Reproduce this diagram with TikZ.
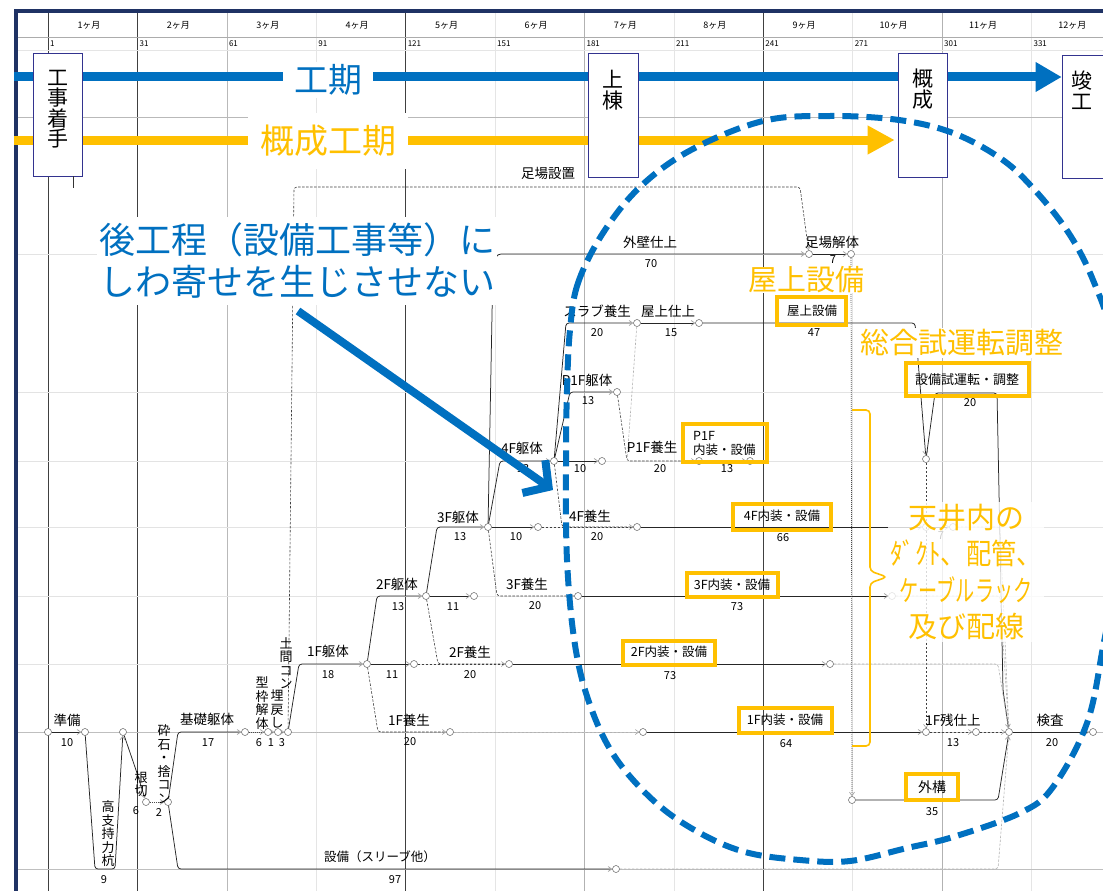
\documentclass[tikz,border=0pt]{standalone}
\usepackage{fontspec}
\setmainfont{Noto Sans CJK JP}
\usetikzlibrary{arrows.meta}
\definecolor{navy}{RGB}{31,50,100}
\definecolor{myblue}{RGB}{0,112,192}
\definecolor{myyel}{RGB}{255,192,0}
\newcommand{\myfs}[2]{\fontsize{#1}{#2}\selectfont}
\begin{document}
\begin{tikzpicture}[x=1pt,y=-1pt,
 ev/.style={circle,draw=gray!75!black,fill=white,inner sep=0pt,minimum size=7pt,line width=0.5pt},
 act/.style={draw=black!85,line width=0.75pt},
 dsh/.style={draw=black!75,line width=0.6pt,dash pattern=on 2.5pt off 1.5pt},
 dsl/.style={draw=gray!60,line width=0.6pt,dash pattern=on 2.5pt off 1.5pt},
 dot/.style={draw=black!70,line width=0.7pt,dash pattern=on 1pt off 1pt},
 tip/.style={-{Straight Barb[length=3.5pt,width=5pt,color=gray!70]}},
 lb/.style={font=\myfs{13.5}{14},inner sep=0pt},
 nm/.style={font=\myfs{11}{12},inner sep=0pt},
 vt/.style={font=\myfs{13}{13.5},align=center,inner sep=0pt},
 ybox/.style={draw=myyel,line width=3.6pt},
 ytx/.style={font=\myfs{12.5}{14},inner sep=0pt},
 ms/.style={draw=black!40!blue!60!gray,line width=0.6pt,fill=white},
 mst/.style={font=\myfs{21}{20.5},align=center,inner sep=0pt},
 ytext/.style={text=myyel,font=\myfs{29}{36.5},inner sep=2pt,fill=white}
]
\useasboundingbox (0,0) rectangle (1103,891);
\fill[white] (0,0) rectangle (1103,891);

% ---------- grid ----------
\foreach \k/\c in {0/black!75,1/black!75,2/gray!55,3/gray!20,4/black!75,5/gray!20,6/gray!60,7/gray!20,8/black!75,9/gray!20,10/gray!60,11/gray!20}{
  \draw[draw=\c,line width=0.6pt] ({48+89.4*\k},12) -- ({48+89.4*\k},891);
}
\foreach \k/\d in {0/1,1/31,2/61,3/91,4/121,5/151,6/181,7/211,8/241,9/271,10/301,11/331}{
  \node[font=\myfs{9}{10},inner sep=0pt] at ({48+89.4*\k+41},25) {\the\numexpr\k+1\relax ヶ月};
  \node[font=\myfs{8}{9},anchor=west,inner sep=0pt] at ({48+89.4*\k+2},44) {\d};
}
\draw[gray!65,line width=0.6pt] (16,37) -- (1103,37);
\draw[gray!20,line width=0.5pt] (16,50) -- (1103,50);
\draw[gray!55,line width=0.6pt] (16,117) -- (1103,117);
\foreach \y in {254,392,461,527,596,664}{\draw[gray!22,line width=0.5pt] (16,\y) -- (1103,\y);}
\foreach \y in {732,869}{\draw[gray!50,line width=0.6pt] (16,\y) -- (1103,\y);}

% ---------- frame ----------
\draw[navy,line width=3.5pt] (16,891) -- (16,11) -- (1103,11);

% ---------- period arrows and milestones ----------
\node[ms,minimum width=49pt,minimum height=123pt] (m1) at (57.5,114.5) {};
\node[ms,minimum width=50pt,minimum height=124pt] (m2) at (613,115) {};
\node[ms,minimum width=49pt,minimum height=124pt] (m3) at (922.5,115) {};
\node[ms,minimum width=50pt,minimum height=123pt] (m4) at (1087,116.5) {};
\coordinate (bs) at (14,77);
\coordinate (ys) at (14,140);
\draw[myblue,line width=9pt,-{Triangle[length=26pt,width=28pt]}] (bs) -- (m4.west |- bs);
\draw[myyel,line width=9pt,-{Triangle[length=27pt,width=27pt]}] (ys) -- ([xshift=-3pt]m3.west |- ys);
\node[text=myblue,fill=white,font=\myfs{34}{34},inner xsep=11pt,inner ysep=2pt] (tki) at (328,80) {工期};
\node[text=myyel,fill=white,font=\myfs{34}{34},inner xsep=12pt,inner ysep=12pt] (gtk) at (328,141) {概成工期};
\node[ms,minimum width=49pt,minimum height=123pt] at (57.5,114.5) {};
\node[ms,minimum width=50pt,minimum height=124pt] at (613,115) {};
\node[ms,minimum width=49pt,minimum height=124pt] at (922.5,115) {};
\node[ms,minimum width=50pt,minimum height=123pt] at (1087,116.5) {};
\node[mst] at (57.5,109) {工\\事\\着\\手};
\node[mst] at (613,90) {上\\棟};
\node[mst] at (922.5,89) {概\\成};
\node[mst] at (1082,90) {竣\\工};
\coordinate (mt) at (73,188);
\draw[black!80,line width=0.6pt] (m1.south -| mt) -- (mt);

% ---------- events ----------
\node[ev] (e0) at (48,732) {};
\node[ev] (e1) at (85,732) {};
\node[ev] (e2) at (123,732) {};
\node[ev] (e3) at (146,802) {};
\node[ev] (e4) at (168,802) {};
\node[ev] (e5) at (245,732) {};
\node[ev] (e6) at (268,732) {};
\node[ev] (e7) at (278,732) {};
\node[ev] (e8) at (288,732) {};
\node[ev] (e9) at (367,664) {};
\node[ev] (e10) at (414,664) {};
\node[ev] (e11) at (426,596) {};
\node[ev] (e12) at (474,596) {};
\node[ev] (e13) at (488,527) {};
\node[ev] (e14) at (538,527) {};
\node[ev] (e15) at (554,461) {};
\node[ev] (e16) at (602,461) {};
\node[ev] (e17) at (617,392) {};
\node[ev] (e18) at (637,323) {};
\node[ev] (e19) at (699,323) {};
\node[ev] (e20) at (699,461) {};
\node[ev] (e21) at (750,461) {};
\node[ev] (e22) at (637,527) {};
\node[ev] (e23) at (578,596) {};
\node[ev] (e24) at (509,664) {};
\node[ev] (e25) at (450,732) {};
\node[ev] (e26) at (643,732) {};
\node[ev] (e27) at (809,254) {};
\node[ev] (e28) at (851,254) {};
\node[ev] (e29) at (926,459) {};
\node[ev] (e30) at (926,527) {};
\node[ev] (e31) at (953,527) {};
\node[ev] (e32) at (892,596) {};
\node[ev] (e33) at (830,664) {};
\node[ev] (e34) at (926,732) {};
\node[ev] (e35) at (976,732) {};
\node[ev] (e36) at (1009,732) {};
\node[ev] (e37) at (1093,732) {};
\node[ev] (e38) at (852,800) {};
\node[ev] (e39) at (616,869) {};

% ---------- activities ----------
\begin{scope}[rounded corners=3pt]
\draw[act,tip] (e0) -- (e1);
\draw[act,tip] (e1) -- (95,869) -- (115,869) -- (e2);
\draw[act,tip] (e2) -- (137,773) -- (e3);
\draw[dot,tip] (e3) -- (e4);
\draw[act,tip] (e4) -- (178,732) -- (e5);
\draw[act,tip] (e4) -- (178,869) -- (e39);
\draw[dsl] (e39) -- (998,869) -- (e36);
\draw[dot,tip] (e5) -- (e6);
\draw[dot,tip] (e6) -- (e7);
\draw[dot,tip] (e7) -- (e8);
\draw[act,tip] (e8) -- (299,664) -- (e9);
\draw[dsh,tip] (e8) -- (294,187) -- (800,187) -- (e27);
\draw[act,tip] (e9) -- (e10);
\draw[dsh,tip] (e10) -- (e24);
\draw[dsh,tip] (e9) -- (378,732) -- (e25);
\draw[dsl,tip] (e25) -- (e26);
\draw[act,tip] (e26) -- (e34);
\draw[dsh,tip] (e34) -- (e35);
\draw[dsh,tip] (e35) -- (e36);
\draw[act,tip] (e36) -- (e37);
\draw[act,tip] (e9) -- (377,596) -- (e11);
\draw[act,tip] (e11) -- (e12);
\draw[dsh] (e11) -- (438,664) -- (e24);
\draw[act,tip] (e11) -- (437,527) -- (e13);
\draw[act,tip] (e13) -- (e14);
\draw[dsh,tip] (e13) -- (497,596) -- (e23);
\draw[act,tip] (e23) -- (e32);
\draw[dsl] (e32) -- (1000,596) -- (e36);
\draw[act,tip] (e13) -- (500,461) -- (e15);
\draw[act,tip] (e13) -- (493,262) -- (498,254) -- (e27);
\draw[act,tip] (e27) -- (e28);
\draw[dot,tip] (e28) -- (e38);
\draw[act,tip] (e38) -- (998,800) -- (e36);
\draw[act,tip] (e15) -- (e16);
\draw[dsh,tip] (e14) -- (e22);
\draw[dsh] (e15) -- (562,527) -- (e22);
\draw[act,tip] (e15) -- (566,323) -- (e18);
\draw[act,tip] (e15) -- (570,392) -- (e17);
\draw[dsh,tip] (e17) -- (627,461) -- (e20);
\draw[dsl] (e18) -- (627,461) -- (e20);
\draw[act,tip] (e18) -- (e19);
\draw[act,tip] (e19) -- (915,323) -- (e29);
\draw[act,tip] (e20) -- (e21);
\draw[act,tip] (e22) -- (e30);
\draw[act,tip] (e30) -- (e31);
\draw[dsl] (e31) -- (1000,527) -- (e36);
\draw[act,tip] (e29) -- (935,393) -- (997,393) -- (1003,690) -- (e36);
\draw[dsh,tip] (e29) -- (e34);
\draw[act,tip] (e24) -- (e33);
\draw[dsl] (e33) -- (998,664) -- (e36);
\end{scope}

% ---------- labels ----------
\node[lb] at (67,720) {準備};   \node[nm] at (67,743) {10};
\node[vt] at (108,834) {高\\支\\持\\力\\杭}; \node[nm] at (104,880) {9};
\node[vt] at (141,784) {根\\切}; \node[nm] at (136,811) {6};
\node[vt] at (164,764) {砕\\石\\・\\捨\\コ\\ン}; \node[nm] at (159,812) {2};
\node[lb] at (207,719) {基礎躯体}; \node[nm] at (208,743) {17};
\node[vt] at (262,703) {型\\枠\\解\\体};
\node[vt] at (277,709) {埋\\戻\\し};
\node[vt] at (286,663) {土\\間\\コ\\ン};
\node[nm] at (259,743) {6}; \node[nm] at (271,743) {1}; \node[nm] at (282,743) {3};
\node[lb] at (328,651) {1F躯体}; \node[nm] at (328,675) {18};
\node[nm] at (392,675) {11};
\node[lb] at (470,652) {2F養生}; \node[nm] at (470,675) {20};
\node[lb] at (409,720) {1F養生}; \node[nm] at (410,742) {20};
\node[lb] at (397,584) {2F躯体}; \node[nm] at (398,607) {13};
\node[nm] at (453,607) {11};
\node[lb] at (458,517) {3F躯体}; \node[nm] at (460,537) {13};
\node[nm] at (516,537) {10};
\node[lb] at (527,584) {3F養生}; \node[nm] at (535,606) {20};
\node[lb] at (522,448) {4F躯体}; \node[nm] at (523,469) {13};
\node[nm] at (580,469) {10};
\node[lb] at (590,516) {4F養生}; \node[nm] at (597,537) {20};
\node[lb] at (597,311) {スラブ養生}; \node[nm] at (597,333) {20};
\node[lb] at (668,311) {屋上仕上}; \node[nm] at (671,333) {15};
\node[lb] at (587,380) {P1F躯体}; \node[nm] at (588,401) {13};
\node[lb] at (652,447) {P1F養生}; \node[nm] at (660,469) {20};
\node[nm] at (727,469) {13};
\node[lb] at (650,242) {外壁仕上}; \node[nm] at (651,264) {70};
\node[lb] at (832,242) {足場解体}; \node[nm] at (833,259.5) {7};
\node[lb] at (548,173) {足場設置};
\node[nm] at (814,333) {47};
\node[nm] at (783,538) {66};
\node[nm] at (737,607) {73};
\node[nm] at (670,676) {73};
\node[nm] at (786,744) {64};
\node[nm] at (941,536) {7};
\node[nm] at (970,403) {20};
\node[lb] at (953,720) {1F残仕上}; \node[nm] at (953,743) {13};
\node[lb] at (1050,720) {検査}; \node[nm] at (1052,743) {20};
\node[nm] at (932,812) {35};
\node[font=\myfs{12.5}{13},inner sep=0pt] at (380,857) {設備（スリーブ他）}; \node[nm] at (395,880) {97};

% ---------- yellow boxes ----------
\draw[ybox] (777,297) rectangle (846,325);  \node[ytx] at (812,311) {屋上設備};
\draw[ybox] (906,363) rectangle (1029,396); \node[ytx,font=\myfs{13}{14}] at (967,380) {設備試運転・調整};
\draw[ybox] (683,424) rectangle (767,462);  \node[ytx,align=left,anchor=west] at (693,443) {P1F\\内装・設備};
\draw[ybox] (733,504) rectangle (831,530);  \node[ytx] at (782,516) {4F内装・設備};
\draw[ybox] (687,573) rectangle (778,597);  \node[ytx] at (732,585) {3F内装・設備};
\draw[ybox] (623,641) rectangle (715,665);  \node[ytx] at (669,652) {2F内装・設備};
\draw[ybox] (739,708) rectangle (832,733);  \node[ytx] at (785,720) {1F内装・設備};
\draw[ybox] (906,774) rectangle (958,800);  \node[ytx,font=\myfs{14}{15}] at (932,787) {外構};

% ---------- yellow annotations ----------
\node[ytext,inner ysep=0pt] at (806,280) {屋上設備};
\node[ytext] at (962,343) {総合試運転調整};
\node[ytext,fill opacity=0.8,text opacity=1,align=center] at (966,572) {天井内の\\\scalebox{0.87}[1]{ﾀﾞｸﾄ、配管、}\\\scalebox{0.66}[1]{ケーブルラック}\\及び配線};
\draw[myyel,line width=1.6pt,rounded corners=4pt] (852,410) -- (870,410) -- (870,571) -- (887,577) -- (870,583) -- (870,746) -- (852,746);

% ---------- blue annotation ----------
\node[text=myblue,fill=white,font=\myfs{36}{42},align=left,anchor=west,inner xsep=2pt,inner ysep=6pt] (bt) at (97,261) {後工程（設備工事等）に\\しわ寄せを生じさせない};
\coordinate (as) at (298,311);
\coordinate (ae) at (553,490);
\draw[myblue,line width=8pt,-{Straight Barb[length=18pt,width=40pt]}] (as) -- (ae);
\draw[myblue,line width=6pt,dash pattern=on 16pt off 8pt] plot[smooth cycle,tension=0.6] coordinates {
(570,330) (578,283) (603,233) (640,187) (691,150) (763,121) (830,116) (899,120) (953,133) (1000,158) (1032,187) (1068,232) (1093,280) (1112,340) (1122,450) (1118,560) (1103,647) (1087,723) (1053,787) (1020,813) (953,837) (907,848) (850,861) (800,860) (745,852) (698,832) (655,802) (615,757) (590,705) (575,645) (567,560) (566,460) (567,390)};
\end{tikzpicture}
\end{document}
